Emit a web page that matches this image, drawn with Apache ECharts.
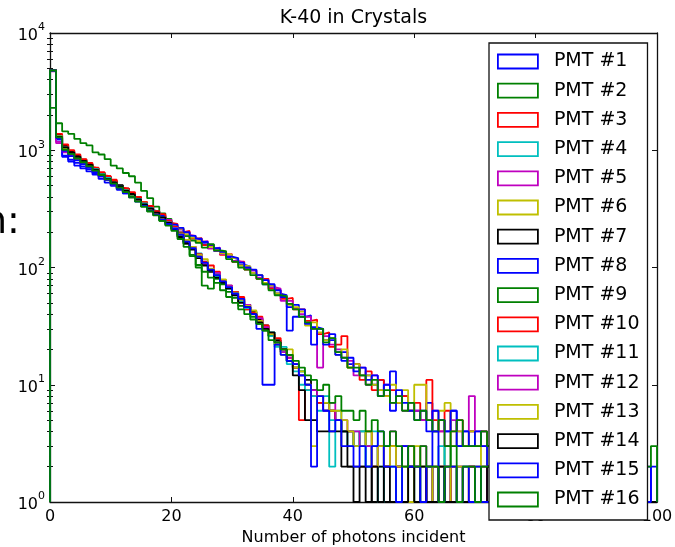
<!DOCTYPE html>
<html>
<head>
<meta charset="utf-8">
<title>K-40 in Crystals</title>
<script src="https://cdn.jsdelivr.net/npm/echarts@6/dist/echarts.min.js"></script>
<style>
  html, body { margin: 0; padding: 0; background: #fff; }
  #chart { width: 675px; height: 547px; }
</style>
</head>
<body>
<div id="chart"></div>
<script>
// Histogram counts per 1-photon bin, bins 0..99 (bin i covers [i, i+1)).
const pmt01 = [4850,1250,900,830,780,730,690,640,600,560, 500,480,440,410,375,345,315,290,262,245, 226,212,198,178,172,158,152,138,135,122, 118,106,102,90,86,72,70,60,58,46, 48,38,39,31,30,24,24,19,19,15, 15,12,12,10,11,8,13,7,8,6, 6,5,7,4,5,4,6,3,4,4, 3,4,2,3,4,3,2,3,3,2, 3,2,2,3,2,1,2,2,3,2, 2,1,2,2,1,2,2,1,2,1];
const pmt02 = [2300,1700,1450,1380,1250,1150,1100,960,920,840, 740,700,640,600,530,450,390,330,290,260, 225,190,160,128,100,70,66,80,72,62, 55,47,44,38,33,29,26,22,19,16, 15,13,10,9,7,6,6,5,4,4, 3,4,3,2,3,2,3,2,1,2, 2,1,2,2,1,3,2,1,2,2, 1,2,1,2,2,1,2,1,1,2, 1,2,1,1,2,1,1,2,1,1, 1,2,1,1,1,2,1,1,1,1];
const pmt03 = [4750,1350,1080,960,880,790,720,700,610,600, 560,470,470,400,400,360,330,285,280,240, 235,200,205,176,178,155,155,140,128,130, 112,112,96,95,80,80,66,64,54,55, 44,44,35,36,27,28,21,22,26,14, 15,11,13,9,11,8,9,7,8,6, 7,5,11,5,4,6,4,5,3,4, 3,4,3,2,3,4,2,3,2,3, 2,3,2,2,3,2,1,2,2,1, 2,2,1,2,1,2,1,2,1,1];
const pmt04 = [4800,1280,1000,920,850,780,730,670,640,570, 520,495,440,425,380,345,310,300,265,250, 222,198,172,150,132,112,96,88,78,70, 62,55,46,42,37,30,28,22,21,16, 14,13,10,9,7,8,5,6,4,3, 4,3,2,4,2,3,2,2,3,1, 2,2,1,2,3,1,2,1,2,2, 1,2,2,1,1,2,1,2,1,1, 2,1,1,2,1,1,1,1,2,1, 1,1,2,1,1,1,1,1,1,1];
const pmt05 = [4700,1150,960,900,830,780,760,690,620,590, 540,500,455,410,390,340,325,300,268,255, 230,212,190,186,166,168,145,148,130,128, 114,110,98,94,82,78,68,66,52,52, 45,40,38,30,14,26,22,20,17,16, 12,14,10,12,9,10,7,8,6,7, 6,5,5,6,4,3,5,4,3,8, 4,3,3,4,2,3,3,2,3,2, 2,3,2,1,2,2,2,1,2,2, 1,2,2,1,2,1,2,1,1,1];
const pmt06 = [4800,1320,1050,940,870,820,750,670,640,580, 540,500,460,420,380,360,315,300,275,240, 225,215,192,180,168,162,150,140,132,128, 120,104,102,90,86,74,70,60,57,48, 46,42,32,34,28,24,25,18,20,14, 15,12,12,10,9,8,10,7,9,6, 10,10,5,4,6,7,3,4,3,4, 3,2,3,3,2,3,2,2,3,2, 2,2,3,2,1,2,2,1,2,2, 1,2,1,2,1,1,2,1,1,1];
const pmt07 = [4850,1350,1100,980,900,830,760,700,640,590, 545,505,470,430,395,355,325,300,270,245, 215,188,165,145,126,105,92,86,76,68, 60,52,48,42,36,32,26,24,20,18, 14,12,11,9,8,7,6,5,2,2, 1,2,2,1,2,1,1,2,1,2, 1,1,2,1,1,2,1,1,1,2, 1,1,1,2,1,1,1,1,2,1, 1,1,2,1,1,1,1,1,1,1, 1,1,1,1,1,2,1,1,1,1];
const pmt08 = [4800,1230,880,800,740,700,660,620,570,530, 500,460,430,400,370,350,315,300,275,250, 232,218,200,186,176,165,156,146,136,124, 120,110,100,96,86,78,72,64,56,29, 38,44,33,22,30,22,27,18,16,17, 13,14,11,12,8,10,6,9,7,6, 5,6,4,6,5,4,6,3,4,3, 4,3,2,3,3,2,3,2,3,2, 2,3,2,2,1,2,2,2,1,2, 2,1,2,1,2,1,1,2,1,1];
const pmt09 = [4750,1300,1000,920,840,770,720,660,610,560, 520,470,440,395,380,330,300,280,250,232, 216,195,185,170,162,148,158,140,138,118, 112,100,96,86,80,72,64,58,57,49, 44,38,34,30,30,23,25,19,17,14, 14,12,10,11,8,9,7,8,6,7, 5,6,5,4,5,3,4,5,3,3, 3,4,3,2,3,2,2,3,2,2, 2,2,1,2,2,2,1,2,2,1, 2,1,1,2,1,2,1,1,1,1];
const pmt10 = [4800,1380,1120,1000,920,840,780,710,650,600, 550,480,470,440,400,360,335,302,285,250, 222,195,170,150,130,112,104,92,78,70, 62,56,44,41,38,32,27,25,20,17, 14,5,9,8,7,6,6,5,4,4, 3,3,4,2,3,2,3,2,2,3, 2,2,1,2,2,1,2,2,1,2, 2,1,2,1,1,2,1,2,1,1, 1,1,2,1,1,2,1,1,1,1, 1,1,1,2,1,1,1,1,1,1];
const pmt11 = [4780,1320,1060,950,870,810,740,690,630,580, 530,490,455,415,385,352,320,292,268,242, 218,192,168,145,125,108,94,84,74,66, 58,52,45,40,34,30,26,21,19,15, 13,10,9,8,6,6,2,5,4,4, 3,4,2,3,1,3,2,1,2,2, 1,2,2,1,2,1,1,2,1,1, 2,1,1,2,1,1,2,1,1,1, 1,2,1,1,1,1,2,1,1,1, 1,1,1,1,2,1,1,1,1,1];
const pmt12 = [4800,1180,980,900,830,760,720,660,600,560, 510,480,440,400,370,340,310,288,262,240, 216,190,168,150,128,108,96,90,76,70, 60,54,48,40,37,31,27,23,19,17, 15,12,10,9,8,6,7,5,5,4, 4,3,3,2,3,2,4,2,3,2, 2,3,2,1,2,2,1,2,1,2, 1,2,1,1,2,1,1,1,2,1, 1,1,2,1,1,1,1,2,1,1, 1,1,1,1,1,1,2,1,1,1];
const pmt13 = [4820,1310,1040,940,860,800,740,680,620,570, 525,485,445,405,370,338,312,285,258,236, 210,186,172,150,128,118,98,86,79,68, 61,53,47,43,35,30,27,22,18,20, 14,13,10,3,8,7,6,6,5,4, 3,3,4,2,3,2,3,2,2,1, 3,2,2,1,2,2,1,2,2,1, 2,1,1,2,1,2,1,1,1,2, 1,1,2,1,1,2,1,1,1,1, 1,1,1,1,2,1,1,1,1,1];
const pmt14 = [4800,1300,1060,960,880,810,750,680,620,570, 530,490,450,420,380,345,318,294,268,240, 212,182,160,142,120,104,94,82,74,66, 58,50,46,40,34,30,28,23,20,16, 12,9,5,5,4,4,4,4,4,2, 2,2,1,2,1,2,1,1,1,2, 1,2,1,1,2,1,1,1,1,1, 1,1,2,1,1,1,2,1,1,1, 2,1,1,1,1,1,1,2,1,1, 1,1,1,2,1,1,1,1,1,1];
const pmt15 = [4800,1270,990,890,820,760,710,650,600,560, 510,470,430,400,365,335,305,282,256,235, 214,190,166,146,124,110,96,86,76,68, 60,54,46,40,30,10,10,22,18,16, 15,12,10,2,8,6,4,5,3,3, 2,3,2,3,4,2,2,1,3,2, 2,1,2,4,1,2,2,1,2,1, 2,1,1,2,1,2,1,1,2,1, 1,2,1,1,2,1,1,1,2,1, 1,2,1,1,1,2,1,1,1,2];
const pmt16 = [4800,1290,1010,930,850,790,730,670,615,565, 520,480,440,400,365,330,302,278,250,228, 205,175,150,125,105,92,82,74,64,56, 50,44,40,36,33,29,24,23,20,18, 16,14,12,11,9,10,7,8,6,6, 5,6,4,5,4,3,4,3,2,3, 2,3,2,2,1,2,3,1,2,2, 1,2,2,1,2,1,1,2,1,1, 1,1,2,1,1,1,2,1,1,1, 1,1,2,1,1,1,1,1,2,3];

const histograms = [pmt01, pmt02, pmt03, pmt04, pmt05, pmt06, pmt07, pmt08,
                    pmt09, pmt10, pmt11, pmt12, pmt13, pmt14, pmt15, pmt16];
const seriesNames = ['PMT #1','PMT #2','PMT #3','PMT #4','PMT #5','PMT #6','PMT #7','PMT #8',
                     'PMT #9','PMT #10','PMT #11','PMT #12','PMT #13','PMT #14','PMT #15','PMT #16'];
// classic b, g, r, c, m, y, k colour cycle
const colorCycle = ['#0000ff', '#008000', '#ff0000', '#00bfbf', '#bf00bf', '#bfbf00', '#000000'];

const binWidth = 1;
const xMin = 0, xMax = 100, xInterval = 20;
const yMin = 1, yMax = 10000;

const FONT = '"DejaVu Sans", "Liberation Sans", sans-serif';

// Outline of a step histogram: rises from the floor at the first edge,
// steps across each bin, falls back to the floor at the last edge.
function stepOutline(counts) {
  const pts = [[0, yMin]];
  counts.forEach((c, i) => pts.push([i * binWidth, c]));
  pts.push([counts.length * binWidth, counts[counts.length - 1]]);
  pts.push([counts.length * binWidth, yMin]);
  return pts;
}

const colorOf = i => colorCycle[i % colorCycle.length];

// minor log ticks (2..9 of every decade), placed on a linear log10 axis
const minorTickPos = [];
for (let d = 0; d < 4; d++) {
  for (let m = 2; m <= 9; m++) minorTickPos.push(Math.log10(m * Math.pow(10, d)));
}

const chart = echarts.init(document.getElementById('chart'), null, { renderer: 'canvas' });

const frameStyle = { color: '#111', width: 1.3 };
const tickStyle = { color: '#111', width: 1 };

const option = {
  animation: false,
  backgroundColor: '#fff',
  textStyle: { fontFamily: FONT },
  title: {
    text: 'K-40 in Crystals',
    left: 353.5,
    top: 9,
    padding: 0,
    textAlign: 'center',
    textStyle: { fontFamily: FONT, fontSize: 19, fontWeight: 'normal', color: '#000' }
  },
  grid: { left: 50, right: 18, top: 33, bottom: 45, outerBoundsMode: 'none', containLabel: false },
  legend: {
    orient: 'vertical',
    left: 489,
    top: 43,
    height: 470,
    padding: [9, 8, 11, 8],
    itemWidth: 40,
    itemHeight: 14,
    itemGap: 10.2,
    backgroundColor: '#fff',
    borderColor: '#111',
    borderWidth: 1.3,
    borderRadius: 0,
    selectedMode: false,
    icon: 'rect',
    textStyle: { fontFamily: FONT, fontSize: 19, color: '#000', padding: [0, 0, 0, 11] },
    data: seriesNames.map((n, i) => ({
      name: n,
      icon: 'rect',
      itemStyle: { color: 'rgba(255,255,255,0)', borderColor: colorOf(i), borderWidth: 1.8 }
    }))
  },
  xAxis: [
    {
      type: 'value', position: 'bottom', min: xMin, max: xMax, interval: xInterval,
      name: 'Number of photons incident', nameLocation: 'middle', nameGap: 25,
      nameTextStyle: { fontFamily: FONT, fontSize: 16, color: '#000' },
      axisLine: { show: true, onZero: false, lineStyle: frameStyle },
      axisTick: { show: true, inside: true, length: 5, lineStyle: tickStyle },
      axisLabel: { show: true, margin: 7, fontFamily: FONT, fontSize: 16, color: '#000' },
      splitLine: { show: false }
    },
    {
      type: 'value', position: 'top', min: xMin, max: xMax, interval: xInterval,
      axisLine: { show: true, onZero: false, lineStyle: frameStyle },
      axisTick: { show: true, inside: true, length: 5, lineStyle: tickStyle },
      axisLabel: { show: false },
      splitLine: { show: false }
    }
  ],
  yAxis: [
    {
      type: 'log', logBase: 10, position: 'left', min: yMin, max: yMax,
      axisLine: { show: true, onZero: false, lineStyle: frameStyle },
      axisTick: { show: true, inside: true, length: 5, lineStyle: tickStyle },
      axisLabel: {
        show: true, margin: 5, color: '#000',
        formatter: v => '{b|10}{sup|' + Math.round(Math.log10(v)) + '}',
        rich: {
          b: { fontFamily: FONT, fontSize: 16, color: '#000', lineHeight: 22, verticalAlign: 'bottom' },
          sup: { fontFamily: FONT, fontSize: 11, color: '#000', lineHeight: 11, verticalAlign: 'top' }
        }
      },
      splitLine: { show: false }
    },
    {
      type: 'log', logBase: 10, position: 'right', min: yMin, max: yMax,
      axisLine: { show: true, onZero: false, lineStyle: frameStyle },
      axisTick: { show: true, inside: true, length: 5, lineStyle: tickStyle },
      axisLabel: { show: false },
      splitLine: { show: false }
    },
    {
      type: 'value', position: 'left', min: 0, max: 4,
      axisLine: { show: false },
      axisTick: { show: true, inside: true, length: 3, lineStyle: tickStyle, customValues: minorTickPos },
      axisLabel: { show: false },
      splitLine: { show: false }
    },
    {
      type: 'value', position: 'right', min: 0, max: 4,
      axisLine: { show: false },
      axisTick: { show: true, inside: true, length: 3, lineStyle: tickStyle, customValues: minorTickPos },
      axisLabel: { show: false },
      splitLine: { show: false }
    }
  ],
  graphic: [
    {
      type: 'text',
      left: -17,
      top: 204,
      style: { text: 'n:', font: '38px ' + FONT, fill: '#000' },
      z: 10
    }
  ],
  series: histograms.map((counts, i) => ({
    name: seriesNames[i],
    type: 'line',
    xAxisIndex: 0,
    yAxisIndex: 0,
    step: 'end',
    data: stepOutline(counts),
    showSymbol: false,
    symbol: 'none',
    clip: true,
    lineStyle: { color: colorOf(i), width: 1.8 },
    itemStyle: { color: colorOf(i) },
    emphasis: { disabled: true }
  }))
};

chart.setOption(option);
</script>
</body>
</html>
